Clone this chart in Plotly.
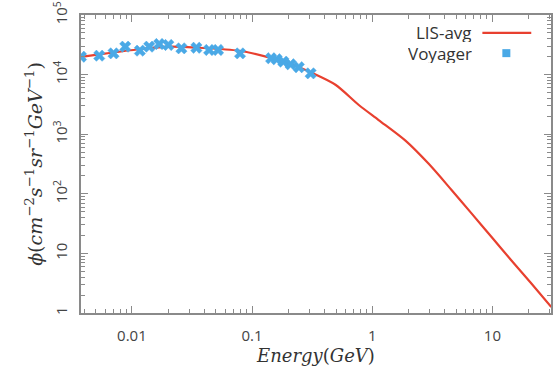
import plotly.graph_objects as go

# LIS-avg model curve
lis_energy = [0.00377, 0.00535, 0.0115, 0.0204, 0.0362, 0.0778, 0.138, 0.202, 0.315,
              0.494, 0.773, 1.13, 1.89, 2.95, 4.57, 6.70, 9.84, 14.4, 21.1, 30.9]
lis_flux = [19900, 21900, 26600, 29500, 28200, 25100, 19500, 15500, 10700,
            6760, 3090, 1730, 780, 318, 116, 47.0, 18.8, 7.6, 3.12, 1.26]

# Voyager data points
voy_energy = [0.00377, 0.00535, 0.00703, 0.0088, 0.01165, 0.01393, 0.01687, 0.0201,
              0.0258, 0.0344, 0.0439, 0.0521, 0.0794, 0.144, 0.160, 0.182, 0.209,
              0.245, 0.307]
voy_flux = [19950, 20750, 22740, 29400, 25200, 29400, 32600, 31400,
            27600, 28200, 25900, 25900, 22700, 18800, 18100, 16500, 14900,
            13300, 10500]

x_tickvals = [0.01, 0.1, 1, 10]
x_ticktext = ["0.01", "0.1", "1", "10"]
y_tickvals = [1, 10, 100, 1000, 10000, 100000]
y_ticktext = ["1", "10", "10<sup>2</sup>", "10<sup>3</sup>", "10<sup>4</sup>", "10<sup>5</sup>"]

RED = "#e8402f"
BLUE = "#4aa9e6"
AXIS = "#8a8a8a"

fig = go.Figure()
fig.add_trace(go.Scatter(x=lis_energy, y=lis_flux, mode="lines", name="LIS-avg",
                         line=dict(color=RED, width=2.2, shape="spline", smoothing=0.8)))
fig.add_trace(go.Scatter(x=voy_energy, y=voy_flux, mode="markers", name="Voyager",
                         marker=dict(symbol="x", size=10, color=BLUE,
                                     line=dict(width=0.5, color=BLUE))))

tickfont = dict(family="Open Sans, sans-serif", size=15, color="#444444")
title_font = dict(family="DejaVu Serif, serif", size=18, color="#333333")

fig.update_xaxes(type="log", range=[-2.4237, 1.4875],
                 tickvals=x_tickvals, ticktext=x_ticktext,
                 ticks="inside", ticklen=7, tickcolor=AXIS, tickwidth=1,
                 ticklabelstandoff=8,
                 minor=dict(ticks="inside", ticklen=4, tickcolor=AXIS,
                            tickvals=[m * 10**e for e in range(-3, 2) for m in range(2, 10)]),
                 showline=True, linecolor=AXIS, linewidth=1.5, mirror="allticks",
                 showgrid=False, zeroline=False, tickfont=tickfont,
                 title=dict(text="<i>Energy</i>(<i>GeV</i>)", font=title_font, standoff=4))
fig.update_yaxes(type="log", range=[0, 5],
                 tickvals=y_tickvals, ticktext=y_ticktext, tickangle=-90,
                 ticks="inside", ticklen=7, tickcolor=AXIS, tickwidth=1,
                 ticklabelstandoff=6,
                 minor=dict(ticks="inside", ticklen=4, tickcolor=AXIS,
                            tickvals=[m * 10**e for e in range(0, 5) for m in range(2, 10)]),
                 showline=True, linecolor=AXIS, linewidth=1.5, mirror="allticks",
                 showgrid=False, zeroline=False, tickfont=tickfont,
                 title=dict(text="<i>ϕ</i>(<i>cm</i><sup>−2</sup><i>s</i><sup>−1</sup><i>sr</i><sup>−1</sup><i>GeV</i><sup>−1</sup>)",
                            font=dict(family="DejaVu Serif, serif", size=19, color="#333333"),
                            standoff=2))

legend_font = dict(family="Open Sans, sans-serif", size=17, color="#333333")
fig.add_annotation(x=0.835, y=0.940, xref="paper", yref="paper", text="LIS-avg",
                   showarrow=False, xanchor="right", yanchor="middle", font=legend_font,
                   height=19, borderpad=0)
fig.add_annotation(x=0.835, y=0.872, xref="paper", yref="paper", text="Voyager",
                   showarrow=False, xanchor="right", yanchor="middle", font=legend_font,
                   height=19, borderpad=0)
fig.add_shape(type="line", xref="paper", yref="paper", x0=0.854, x1=0.958, y0=0.940, y1=0.940,
              line=dict(color=RED, width=2.2))
fig.add_shape(type="rect", xref="paper", yref="paper", xsizemode="pixel", ysizemode="pixel",
              xanchor=0.905, yanchor=0.872, x0=-4, x1=4, y0=-4, y1=4,
              fillcolor=BLUE, line=dict(width=0))

fig.update_layout(width=554, height=370, showlegend=False,
                  margin=dict(l=81, r=1, t=15, b=57),
                  plot_bgcolor="white", paper_bgcolor="white")

fig.write_html("out.html")
